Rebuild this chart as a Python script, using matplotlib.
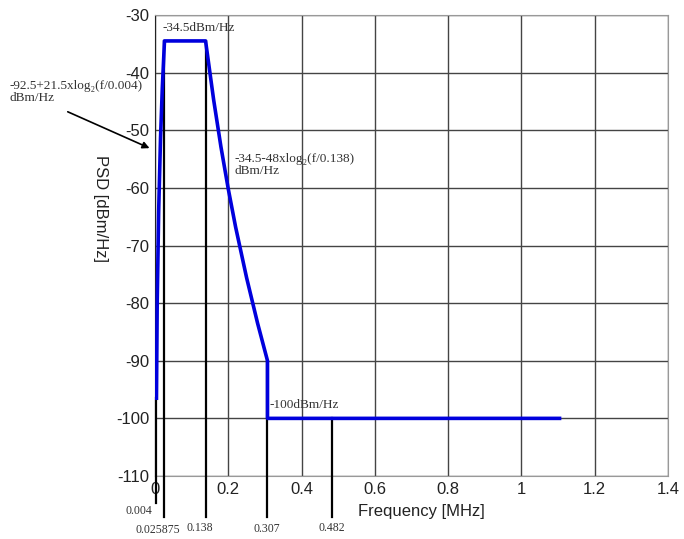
import matplotlib
matplotlib.use("Agg")
import matplotlib.pyplot as plt

plt.rcParams["axes.unicode_minus"] = False

# PSD mask
freq_mhz = [0.004, 0.006, 0.010, 0.015, 0.020, 0.025875, 0.138, 0.16, 0.18, 0.20,
            0.22, 0.25, 0.28, 0.307, 0.307, 1.104]
psd_dbm = [-96.5, -80.0, -64.1, -51.5, -42.6, -34.5, -34.5, -44.7, -52.9, -60.2,
           -66.8, -75.6, -83.5, -90.0, -100.0, -100.0]

# marker frequencies (vertical lines) and the PSD they start from
mark_freq = [0.004, 0.025875, 0.138, 0.307, 0.482]
mark_top = [-96.5, -34.5, -34.5, -90.0, -100.0]
mark_labels = ["0.004", "0.025875", "0.138", "0.307", "0.482"]

x_ticks = [0, 0.2, 0.4, 0.6, 0.8, 1.0, 1.2, 1.4]
x_ticklabels = ["0", "0.2", "0.4", "0.6", "0.8", "1", "1.2", "1.4"]
y_ticks = [-110, -100, -90, -80, -70, -60, -50, -40, -30]

serif = ["Liberation Serif", "DejaVu Serif"]
sans = ["Liberation Sans", "DejaVu Sans"]

fig = plt.figure(figsize=(6.84, 5.39), dpi=100)
ax = fig.add_axes([155 / 684, 1 - 476 / 539, 513 / 684, 461 / 539])

ax.set_xlim(0, 1.4)
ax.set_ylim(-110, -30)
ax.set_xticks(x_ticks)
ax.set_xticklabels(x_ticklabels)
ax.set_yticks(y_ticks)
ax.tick_params(length=0, pad=4, labelsize=12)
for lab in ax.get_xticklabels() + ax.get_yticklabels():
    lab.set_family(sans)
    lab.set_color("#222222")

ax.grid(True, color="#444444", linewidth=1.0)
ax.set_axisbelow(True)
for s in ["top", "right", "bottom"]:
    ax.spines[s].set_color("#999999")
ax.spines["left"].set_color("#222222")

# vertical marker lines extending below the axis, with their labels
label_pos = {"0.004": (-0.043, -116.0), "0.025875": (0.007, -119.3),
             "0.138": (0.123, -119.0), "0.307": (0.306, -119.2),
             "0.482": (0.482, -119.0)}
for f, top, lab in zip(mark_freq, mark_top, mark_labels):
    bottom = -114.7 if f == 0.004 else -117.1
    ax.plot([f, f], [top, bottom], color="black", linewidth=1.6, clip_on=False, zorder=3)
    lx, ly = label_pos[lab]
    ax.text(lx, ly, lab, ha="center", va="center", fontsize=8.5,
            family=serif, color="#333333", clip_on=False)

ax.plot(freq_mhz, psd_dbm, color="#0000dd", linewidth=2.6, zorder=4,
        solid_joinstyle="round")

# annotations
ax.text(0.020, -32.3, "-34.5dBm/Hz", fontsize=9.5, family=serif,
        color="#333333", va="center", ha="left")
ax.text(-0.396, -41.3, "-92.5+21.5xlog\u2082(f/0.004)\ndBm/Hz", fontsize=9.5,
        family=serif, color="#333333", va="top", ha="left", linespacing=1.0,
        clip_on=False)
ax.annotate("", xy=(-0.008, -53.3), xytext=(-0.245, -46.6),
            arrowprops=dict(arrowstyle="-|>", color="black", lw=1.2,
                            mutation_scale=10),
            annotation_clip=False)
ax.text(0.218, -54.0, "-34.5-48xlog\u2082(f/0.138)\ndBm/Hz", fontsize=9.5,
        family=serif, color="#333333", va="top", ha="left", linespacing=1.0)
ax.text(0.312, -97.6, "-100dBm/Hz", fontsize=9.5, family=serif,
        color="#333333", va="center", ha="left")

ax.set_xlabel("Frequency [MHz]", fontsize=12, family=sans, color="#222222",
              va="center")
ax.xaxis.set_label_coords(0.52, -0.078)
ax.set_ylabel("PSD [dBm/Hz]", fontsize=12, family=sans, color="#222222",
              rotation=-90, va="center")
ax.yaxis.set_label_coords(-0.107, 0.581)

fig.savefig("out.png", dpi=100)
